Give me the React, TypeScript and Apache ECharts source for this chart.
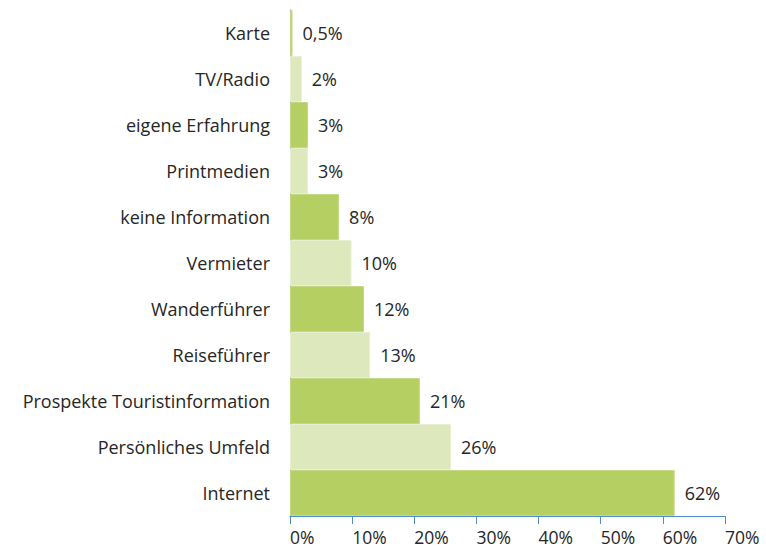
import React, { useEffect, useRef } from "react";
import * as echarts from "echarts";

const categories = [
  "Karte",
  "TV/Radio",
  "eigene Erfahrung",
  "Printmedien",
  "keine Information",
  "Vermieter",
  "Wanderführer",
  "Reiseführer",
  "Prospekte Touristinformation",
  "Persönliches Umfeld",
  "Internet",
];
const values = [0.4, 1.9, 2.9, 2.9, 7.9, 9.9, 11.9, 12.9, 20.9, 25.9, 61.9];
const valueLabels = ["0,5%", "2%", "3%", "3%", "8%", "10%", "12%", "13%", "21%", "26%", "62%"];
const tickValues = [0, 10, 20, 30, 40, 50, 60, 70];

const DARK = "#b5cf62";
const LIGHT = "#dde8bd";
const AXIS = "#4f8fd0";
const TEXT = "#262626";
const FONT = "Open Sans";

export default function App() {
  const ref = useRef<HTMLDivElement>(null);
  useEffect(() => {
    if (!ref.current) return;
    const chart = echarts.init(ref.current, undefined, { renderer: "svg" });
    chart.setOption({
      animation: false,
      textStyle: { fontFamily: FONT },
      grid: { left: 290, right: 41, top: 10, bottom: 33, containLabel: false },
      xAxis: {
        type: "value",
        min: tickValues[0],
        max: tickValues[tickValues.length - 1],
        interval: 10,
        axisLine: { show: true, lineStyle: { color: AXIS, width: 1 } },
        axisTick: { show: true, length: 8, lineStyle: { color: AXIS } },
        splitLine: { show: false },
        axisLabel: {
          formatter: (v: number) => `${v}%`,
          align: "left",
          margin: 12,
          color: TEXT,
          fontSize: 17.5,
          fontFamily: FONT,
        },
      },
      yAxis: {
        type: "category",
        data: categories,
        inverse: true,
        axisLine: { show: true, lineStyle: { color: AXIS, width: 1 } },
        axisTick: { show: false },
        axisLabel: { color: TEXT, fontSize: 18, fontFamily: FONT, margin: 20 },
      },
      series: [
        {
          type: "bar",
          barCategoryGap: 0,
          data: values.map((v, i) => ({
            value: v,
            itemStyle: {
              color: i % 2 === 0 ? DARK : LIGHT,
              borderColor: i % 2 === 0 ? "#c4d983" : "#e8efd2",
              borderWidth: 1,
            },
          })),
          label: {
            show: true,
            position: "right",
            distance: 10,
            color: TEXT,
            fontSize: 18,
            fontFamily: FONT,
            formatter: (p: any) => valueLabels[p.dataIndex],
          },
        },
      ],
    });
    return () => chart.dispose();
  }, []);
  return <div ref={ref} style={{ width: 766, height: 549, position: "absolute", left: 0, top: 0, background: "#fff" }} />;
}
